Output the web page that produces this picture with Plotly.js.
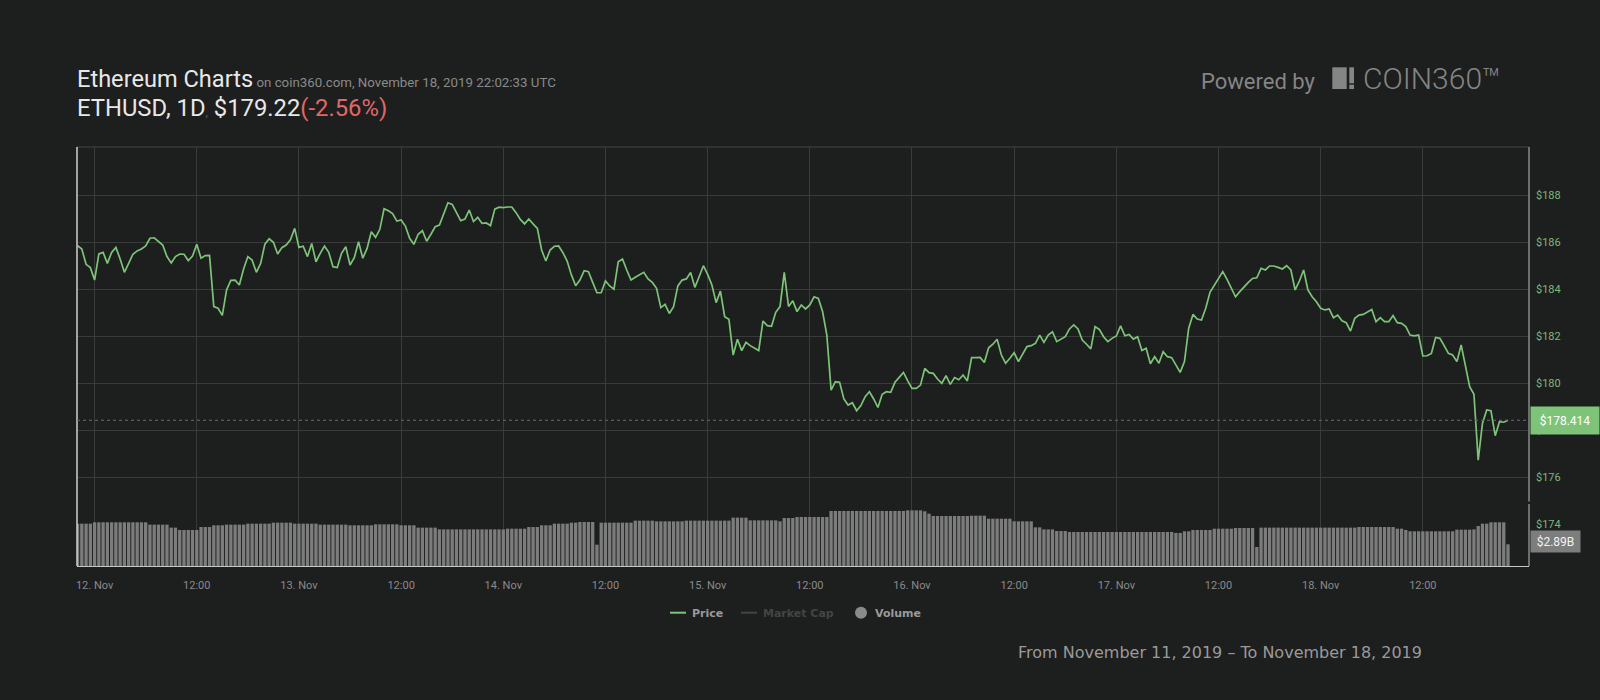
<!DOCTYPE html>
<html>
<head>
<meta charset="utf-8">
<script src="https://cdn.plot.ly/plotly-3.0.1.min.js"></script>
<style>
html,body{margin:0;padding:0;background:#1d1e1e;}
#chart{width:1600px;height:700px;}
</style>
</head>
<body>
<div id="chart"></div>
<script>
// ---------- data ----------
const startTimeUTC = Date.UTC(2019, 10, 11, 22, 0, 0); // first sample, 30-min candles
const intervalMinutes = 30;

const prices = [
185.84,185.70,185.05,184.91,184.38,185.49,185.56,185.09,185.56,185.77,
185.28,184.71,185.09,185.48,185.62,185.70,185.83,186.16,186.18,186.01,
185.87,185.38,185.11,185.38,185.49,185.48,185.21,185.40,185.90,185.31,
185.42,185.43,183.25,183.18,182.88,183.96,184.37,184.38,184.17,184.85,
185.38,185.23,184.71,185.09,185.91,186.14,185.99,185.49,185.76,185.87,
186.09,186.58,185.77,185.82,185.38,185.94,185.16,185.52,185.83,185.56,
184.95,184.91,185.52,185.80,185.02,185.33,186.01,185.31,185.73,186.44,
186.20,186.54,187.42,187.33,187.21,186.89,186.94,186.68,186.16,185.90,
186.33,186.48,186.03,186.33,186.65,186.72,187.22,187.67,187.60,187.26,
186.91,186.98,187.36,186.87,187.05,186.79,186.81,186.70,187.40,187.48,
187.46,187.49,187.49,187.25,186.96,186.77,186.98,186.77,186.58,185.66,
185.19,185.66,185.82,185.83,185.55,185.19,184.60,184.14,184.38,184.78,
184.74,184.28,183.84,183.84,184.34,184.13,183.99,185.16,185.28,184.81,
184.38,184.50,184.60,184.71,184.43,184.28,184.03,183.21,183.35,182.96,
183.25,184.13,184.38,184.43,184.70,184.07,184.52,184.99,184.62,184.17,
183.42,183.91,182.82,182.71,181.19,181.86,181.38,181.73,181.59,181.48,
181.38,182.64,182.44,182.41,183.01,183.25,184.71,183.26,183.50,183.04,
183.32,183.15,183.32,183.67,183.60,183.04,182.04,179.70,180.06,180.03,
179.32,179.06,179.16,178.82,179.04,179.42,179.63,179.32,178.96,179.52,
179.63,179.60,180.03,180.24,180.45,180.09,179.77,179.77,179.91,180.62,
180.44,180.41,180.17,179.99,180.31,179.94,180.23,180.14,180.34,180.09,
181.08,181.08,181.09,180.87,181.50,181.65,181.86,181.19,180.84,181.05,
181.29,180.91,181.26,181.55,181.59,181.69,182.04,181.73,182.04,182.18,
181.76,181.87,181.97,182.30,182.47,182.30,181.83,181.65,181.45,182.40,
182.28,181.97,181.76,181.90,182.00,182.43,182.01,182.07,181.87,181.97,
181.38,181.48,180.82,181.12,180.84,181.33,181.12,181.08,180.77,180.45,
180.91,182.33,182.92,182.72,182.68,183.18,183.86,184.17,184.43,184.74,
184.41,184.03,183.67,183.89,184.10,184.28,184.45,184.48,184.88,184.81,
184.98,184.98,184.92,184.85,184.99,184.81,183.96,184.34,184.81,183.96,
183.67,183.46,183.18,183.11,183.15,182.78,182.89,182.65,182.57,182.21,
182.75,182.89,182.92,183.04,183.13,182.61,182.78,182.61,182.61,182.87,
182.57,182.54,182.40,182.04,182.01,182.04,181.15,181.16,181.26,181.94,
181.90,181.59,181.26,181.19,180.91,181.62,180.70,179.84,179.52,176.72,
178.28,178.85,178.82,177.76,178.35,178.33,178.414
];

// volume, billions USD
const volumes = [
5.64,5.64,5.64,5.64,5.82,5.82,5.82,5.82,5.82,5.82,
5.82,5.82,5.82,5.82,5.82,5.82,5.82,5.51,5.51,5.51,
5.51,5.51,5.11,5.11,4.80,4.80,4.80,4.80,4.80,5.19,
5.19,5.19,5.42,5.42,5.42,5.51,5.51,5.51,5.51,5.51,
5.64,5.64,5.64,5.64,5.64,5.64,5.77,5.77,5.77,5.77,
5.77,5.64,5.64,5.64,5.64,5.64,5.64,5.51,5.51,5.51,
5.51,5.51,5.51,5.51,5.42,5.42,5.42,5.42,5.42,5.42,
5.55,5.55,5.55,5.55,5.55,5.55,5.42,5.42,5.42,5.42,
5.11,5.11,5.11,5.11,5.11,4.88,4.88,4.88,4.88,4.88,
4.88,4.88,4.88,4.88,4.88,4.88,4.88,4.88,4.88,4.88,
4.88,4.97,4.97,4.97,4.97,4.97,5.19,5.19,5.19,5.42,
5.42,5.42,5.64,5.64,5.64,5.64,5.77,5.77,5.86,5.86,
5.86,5.86,2.84,5.77,5.77,5.77,5.77,5.77,5.77,5.77,
5.77,6.04,6.04,6.04,6.04,6.04,5.95,5.95,5.95,5.95,
5.95,5.95,5.95,6.04,6.04,6.04,6.04,6.04,6.04,6.04,
6.04,6.04,6.04,6.04,6.44,6.44,6.44,6.44,6.08,6.08,
6.08,6.08,6.08,6.08,6.08,5.95,6.39,6.39,6.39,6.53,
6.53,6.53,6.53,6.53,6.53,6.53,6.53,7.33,7.33,7.33,
7.33,7.33,7.33,7.33,7.33,7.33,7.33,7.33,7.33,7.33,
7.33,7.33,7.33,7.33,7.33,7.41,7.41,7.41,7.41,7.28,
6.97,6.66,6.66,6.66,6.66,6.66,6.66,6.66,6.66,6.66,
6.70,6.70,6.70,6.70,6.30,6.30,6.30,6.30,6.30,6.30,
5.95,5.95,5.95,5.95,5.95,5.15,5.15,4.88,4.88,4.88,
4.66,4.66,4.66,4.53,4.53,4.53,4.53,4.53,4.53,4.53,
4.53,4.53,4.53,4.53,4.53,4.53,4.53,4.53,4.53,4.53,
4.53,4.53,4.53,4.53,4.53,4.53,4.53,4.53,4.40,4.40,
4.62,4.62,4.80,4.80,4.80,4.80,4.80,4.97,4.97,4.97,
4.97,4.97,5.06,5.06,5.06,5.06,5.06,2.53,5.11,5.11,
5.11,5.11,5.11,5.11,5.11,5.11,5.11,5.11,5.11,5.11,
5.11,5.11,5.11,5.11,5.11,5.11,5.11,5.11,5.11,5.11,
5.11,5.19,5.19,5.19,5.19,5.19,5.19,5.19,5.19,5.19,
4.97,4.97,4.80,4.62,4.62,4.62,4.62,4.62,4.62,4.62,
4.62,4.62,4.62,4.62,4.84,4.84,4.84,4.84,4.88,5.33,
5.64,5.64,5.82,5.82,5.82,5.82,2.89
];

const lastPriceLabel = '$178.414';
const lastVolumeLabel = '$2.89B';
const priceTicks = [174,176,178,180,182,184,186,188];
const tickTimes = [
'2019-11-12 00:00','2019-11-12 12:00','2019-11-13 00:00','2019-11-13 12:00',
'2019-11-14 00:00','2019-11-14 12:00','2019-11-15 00:00','2019-11-15 12:00',
'2019-11-16 00:00','2019-11-16 12:00','2019-11-17 00:00','2019-11-17 12:00',
'2019-11-18 00:00','2019-11-18 12:00'];
const tickLabels = ['12. Nov','12:00','13. Nov','12:00','14. Nov','12:00','15. Nov','12:00',
'16. Nov','12:00','17. Nov','12:00','18. Nov','12:00'];
const legendNames = ['Price','Market Cap','Volume'];

// ---------- build ----------
const times = prices.map((_, i) =>
  new Date(startTimeUTC + i * intervalMinutes * 60000).toISOString().slice(0, 19).replace('T', ' '));
const lastPrice = prices[prices.length - 1];
const lastVolume = volumes[volumes.length - 1];

const GREEN = '#7dc478';
const BG = '#1d1e1e';
const GRID = '#393a3a';

// plot box in pixels
const L = 77, R = 1529, T = 147, B = 566;
const px = p => (p - L) / (R - L);
const py = p => (B - p) / (B - T);

const traces = [
  {type:'bar', x:times, y:volumes, xaxis:'x', yaxis:'y2',
   marker:{color:'#7c7c7c', line:{width:0}}, hoverinfo:'skip'},
  {type:'scatter', mode:'lines', x:times, y:prices, xaxis:'x', yaxis:'y',
   line:{color:GREEN, width:1.7}, hoverinfo:'skip'}
];

const layout = {
  width:1600, height:700,
  paper_bgcolor:BG, plot_bgcolor:BG,
  margin:{l:L, r:1600-R, t:T, b:700-B, pad:0},
  showlegend:false,
  bargap:0.22,
  font:{family:'Roboto', color:'#888'},
  xaxis:{type:'date', range:['2019-11-11 21:56:00','2019-11-19 00:28:00'],
    tickmode:'array', tickvals:tickTimes, ticktext:tickLabels,
    showgrid:true, gridcolor:GRID, gridwidth:1, zeroline:false,
    showline:true, linecolor:'#c8c8c8', linewidth:1, ticks:'', ticklabelstandoff:9,
    tickfont:{family:'Roboto', size:11, color:'#8a8a8a'}, fixedrange:true},
  yaxis:{domain:[0,1], range:[172.213,190.043], side:'right',
    tickmode:'array', tickvals:priceTicks, ticktext:priceTicks.map(v => '$' + v),
    showgrid:true, gridcolor:GRID, gridwidth:1, zeroline:false, showline:false,
    ticks:'', ticklabelstandoff:6,
    tickfont:{family:'Roboto', size:11, color:'#7db879'}, fixedrange:true},
  yaxis2:{domain:[0, 63/419], range:[0, 8.39], anchor:'x',
    showgrid:false, showticklabels:false, zeroline:false, showline:false, fixedrange:true},
  shapes:[
    {type:'line', xref:'paper', yref:'paper', x0:0, x1:1, y0:1, y1:1, line:{color:'#454646', width:1}},
    {type:'line', xref:'paper', yref:'paper', x0:0, x1:0, y0:0, y1:1, line:{color:'#d0d0d0', width:1.5}},
    {type:'line', xref:'paper', yref:'paper', x0:1, x1:1, y0:py(501.5), y1:1, line:{color:'#bdbdbd', width:1}},
    {type:'line', xref:'paper', yref:'paper', x0:1, x1:1, y0:0, y1:py(504), line:{color:'#bdbdbd', width:1}},
    {type:'line', xref:'paper', yref:'y', x0:0, x1:1, y0:lastPrice, y1:lastPrice, line:{color:'#6a6a6a', width:1, dash:'dot'}},
    // COIN360 logo blocks
    {type:'rect', xref:'paper', yref:'paper', x0:px(1332.3), x1:px(1346.7), y0:py(89), y1:py(67.3), fillcolor:'#858585', line:{width:0}},
    {type:'rect', xref:'paper', yref:'paper', x0:px(1349.3), x1:px(1354), y0:py(83.3), y1:py(67.3), fillcolor:'#858585', line:{width:0}},
    {type:'rect', xref:'paper', yref:'paper', x0:px(1349.3), x1:px(1354), y0:py(89), y1:py(84.7), fillcolor:'#858585', line:{width:0}},
    // legend symbols
    {type:'line', xref:'paper', yref:'paper', x0:px(670), x1:px(686), y0:py(612.7), y1:py(612.7), line:{color:GREEN, width:2}},
    {type:'line', xref:'paper', yref:'paper', x0:px(741), x1:px(757), y0:py(612.7), y1:py(612.7), line:{color:'#434444', width:2}},
    {type:'circle', xref:'paper', yref:'paper', x0:px(855), x1:px(867), y0:py(618.7), y1:py(606.7), fillcolor:'#8a8a8a', line:{width:0}}
  ],
  annotations:[
    {xref:'paper', yref:'paper', x:px(74.5), y:py(79), xanchor:'left', yanchor:'middle', showarrow:false,
     text:'Ethereum Charts<span style="font-size:13.3px;fill:#8a8a8a"> on coin360.com, November 18, 2019 22:02:33 UTC</span>',
     font:{family:'Roboto', size:23.6, color:'#e8e8e8'}},
    {xref:'paper', yref:'paper', x:px(74.5), y:py(108.3), xanchor:'left', yanchor:'middle', showarrow:false,
     text:'ETHUSD, 1D<span style="font-size:12px;fill:#5a5a5a">,</span> $179.22<span style="fill:#e06868">(-2.56%)</span>',
     font:{family:'Roboto', size:23.8, color:'#e8e8e8'}},
    {xref:'paper', yref:'paper', x:px(1199), y:py(81.5), xanchor:'left', yanchor:'middle', showarrow:false,
     text:'Powered by', font:{family:'Roboto', size:22, color:'#858585'}},
    {xref:'paper', yref:'paper', x:px(1361), y:py(78.7), xanchor:'left', yanchor:'middle', showarrow:false,
     text:'COIN360™', font:{family:'Roboto', size:30, weight:300, color:'#858585'}},
    {xref:'paper', yref:'paper', x:px(690), y:py(613.2), xanchor:'left', yanchor:'middle', showarrow:false,
     text:'<b>' + legendNames[0] + '</b>', font:{family:'DejaVu Sans', size:11, color:'#9a9a9a'}},
    {xref:'paper', yref:'paper', x:px(761), y:py(613.2), xanchor:'left', yanchor:'middle', showarrow:false,
     text:'<b>' + legendNames[1] + '</b>', font:{family:'DejaVu Sans', size:11, color:'#434444'}},
    {xref:'paper', yref:'paper', x:px(873), y:py(613.2), xanchor:'left', yanchor:'middle', showarrow:false,
     text:'<b>' + legendNames[2] + '</b>', font:{family:'DejaVu Sans', size:11, color:'#9a9a9a'}},
    {xref:'paper', yref:'paper', x:px(1016), y:py(652.2), xanchor:'left', yanchor:'middle', showarrow:false,
     text:'From November 11, 2019 – To November 18, 2019', font:{family:'DejaVu Sans', size:16, color:'#9a9a9a'}},
    {xref:'paper', yref:'y', x:1, y:lastPrice, xanchor:'left', yanchor:'middle', xshift:1, showarrow:false,
     text:lastPriceLabel, bgcolor:GREEN, borderpad:0, width:68, height:27, align:'center',
     font:{family:'Roboto', size:12, color:'#ffffff'}},
    {xref:'paper', yref:'y2', x:1, y:lastVolume, xanchor:'left', yanchor:'middle', xshift:1, yshift:3, showarrow:false,
     text:lastVolumeLabel, bgcolor:'#7d7d7d', borderpad:0, width:49, height:21, align:'center',
     font:{family:'Roboto', size:12, color:'#f2f2f2'}}
  ]
};

Plotly.newPlot('chart', traces, layout, {staticPlot:true, displayModeBar:false});
</script>
</body>
</html>
